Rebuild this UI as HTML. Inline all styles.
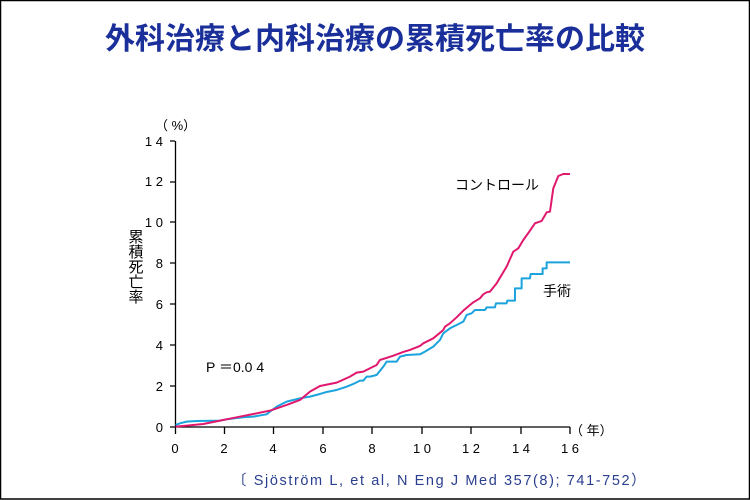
<!DOCTYPE html>
<html><head><meta charset="utf-8"><style>
html,body{margin:0;padding:0;background:#fff}
body{width:750px;height:500px;overflow:hidden;position:relative}
</style></head><body>
<svg width="750" height="500" viewBox="0 0 750 500" xmlns="http://www.w3.org/2000/svg" style="position:absolute;left:0;top:0">
<rect x="0.5" y="0.5" width="749" height="498.5" fill="#fff" stroke="#000" stroke-width="1.5"/>
<text x="375" y="49" text-anchor="middle" font-family="'Liberation Sans','Noto Sans CJK JP',sans-serif" font-size="30" font-weight="bold" fill="#1a2f9a">外科治療と内科治療の累積死亡率の比較</text>
<g font-family="'Liberation Sans','Noto Sans CJK JP',sans-serif" font-size="13" fill="#000">
<text x="155" y="130">（ %）</text>
<g text-anchor="end">
<text x="163" y="432">0</text><text x="163" y="391">2</text><text x="163" y="350">4</text><text x="163" y="309">6</text><text x="163" y="268">8</text><text x="163" y="227">1 0</text><text x="163" y="186">1 2</text><text x="163" y="146">1 4</text>
</g>
<g text-anchor="middle">
<text x="175" y="453">0</text><text x="224" y="453">2</text><text x="273" y="453">4</text><text x="323" y="453">6</text><text x="372" y="453">8</text><text x="422" y="453">1 0</text><text x="471" y="453">1 2</text><text x="521" y="453">1 4</text><text x="570" y="453">1 6</text>
</g>
<text x="570" y="435">（ 年）</text>
<g font-size="15" text-anchor="middle"><text x="136" y="242">累</text><text x="136" y="257">積</text><text x="136" y="272">死</text><text x="136" y="287">亡</text><text x="136" y="302">率</text></g>
<text x="455" y="190" font-size="14">コントロール</text>
<text x="543" y="296" font-size="14">手術</text>
<text x="206" y="372" font-size="14">P ＝0.0 4</text>
</g>
<g stroke="#000" stroke-width="1.3" fill="none">
<line x1="175.5" y1="141" x2="175.5" y2="427"/>
<line x1="175" y1="427" x2="570" y2="427"/>
<path d="M170 427H175M170 386H175M170 345H175M170 304H175M170 263H175M170 222H175M170 182H175M170 141H175"/>
<path d="M175.5 427V434M224.5 427V434M273.5 427V434M323 427V434M372 427V434M422 427V434M471 427V434M521 427V434M570 427V434"/>
</g>
<g transform="translate(120,110) scale(0.3333)" fill="none" stroke-width="6" stroke-linejoin="round">
<polyline stroke="#1aa3dd" points="167,945 180,940 200,935 230,933 300,932 320,928 370,922 400,920 440,913 450,905 470,890 500,875 540,865 570,860 600,852 620,846 650,840 680,830 700,822 720,812 730,812 740,800 750,800 770,795 790,770 800,755 810,755 830,755 840,740 860,735 900,733 915,725 940,710 960,690 970,670 990,655 1010,645 1030,635 1040,615 1055,610 1065,600 1095,600 1100,592 1125,592 1128,580 1160,580 1162,572 1185,572 1185,535 1205,535 1205,505 1230,505 1232,492 1268,492 1268,475 1280,475 1280,457 1350,457"/>
<polyline stroke="#e0186e" points="167,950 200,947 250,942 300,932 350,922 400,912 450,902 500,885 540,870 570,845 600,828 650,818 690,800 710,788 730,785 760,770 770,765 780,750 820,737 850,726 870,720 900,708 910,700 940,685 970,660 975,650 990,640 1010,622 1030,602 1050,585 1060,577 1080,565 1090,553 1100,547 1110,545 1130,520 1160,470 1180,425 1195,415 1210,390 1230,362 1245,340 1265,333 1280,307 1290,305 1300,235 1315,198 1330,192 1350,192"/>
</g>
<text x="232" y="485" font-family="'Liberation Sans','Noto Sans CJK JP',sans-serif" font-size="14.5" fill="#2a3f8f" letter-spacing="1.6">〔 Sjöström L, et al, N Eng J Med 357(8); 741-752）</text>
</svg>
</body></html>
